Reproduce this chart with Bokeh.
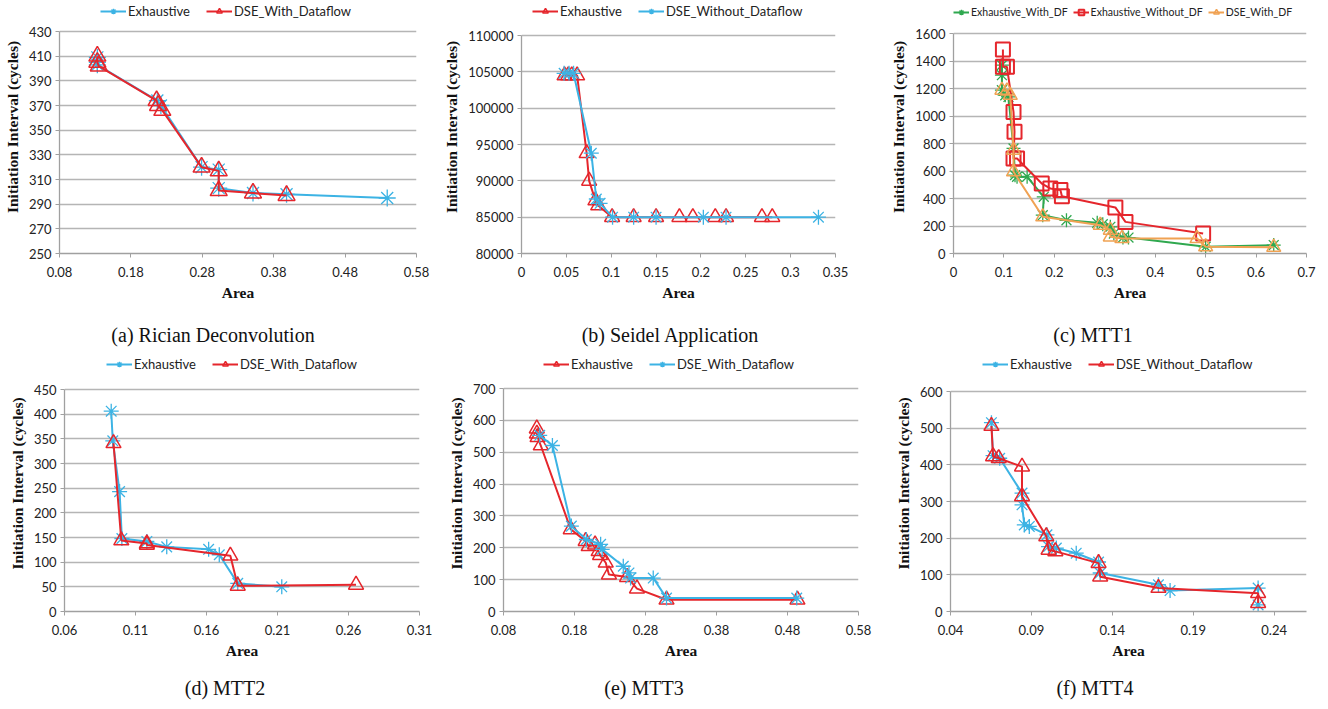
from bokeh.plotting import figure
from bokeh.models import (Range1d, FixedTicker, NumeralTickFormatter, Legend, LegendItem, Div)
from bokeh.layouts import row, column
from bokeh.embed import file_html
from bokeh.resources import INLINE

BLUE = "#3cb3e4"
RED = "#e5262c"
GREEN = "#2fa84f"
ORANGE = "#f0a253"

# ---------------- (a) Rician Deconvolution ----------------
a_exh_x = [0.133, 0.133, 0.133, 0.217, 0.222, 0.279, 0.303, 0.303, 0.351, 0.398, 0.539]
a_exh_y = [409, 405, 403, 374, 370, 320, 318, 303, 299, 298, 295]
a_dse_x = [0.133, 0.133, 0.135, 0.216, 0.218, 0.224, 0.279, 0.303, 0.303, 0.351, 0.398]
a_dse_y = [410, 405, 402, 374, 370, 366, 320, 317, 301, 299, 297]
a_xticks = [0.08, 0.18, 0.28, 0.38, 0.48, 0.58]
a_yticks = [250, 270, 290, 310, 330, 350, 370, 390, 410, 430]

# ---------------- (b) Seidel Application ----------------
b_exh_x = [0.048, 0.052, 0.056, 0.062, 0.0726, 0.0754, 0.0824, 0.0855, 0.101, 0.125, 0.150,
           0.176, 0.191, 0.216, 0.228, 0.268, 0.2795]
b_exh_y = [104500, 104500, 104500, 104500, 93800, 90000, 87300, 86600, 85000, 85000, 85000,
           85000, 85000, 85000, 85000, 85000, 85000]
b_dse_x = [0.0475, 0.053, 0.058, 0.0778, 0.0834, 0.0876, 0.1015, 0.125, 0.150, 0.2027, 0.228, 0.331]
b_dse_y = [104800, 104800, 104800, 93800, 87500, 86900, 85000, 85000, 85000, 85000, 85000, 85000]
b_xticks = [0, 0.05, 0.1, 0.15, 0.2, 0.25, 0.3, 0.35]
b_yticks = [80000, 85000, 90000, 95000, 100000, 105000, 110000]

# ---------------- (c) MTT1 ----------------
c_exdf_x = [0.096, 0.096, 0.096, 0.1026, 0.109, 0.119, 0.122, 0.126, 0.146, 0.179, 0.177, 0.224,
            0.285, 0.296, 0.311, 0.318, 0.336, 0.347, 0.5, 0.635]
c_exdf_y = [1370, 1297, 1188, 1151, 1139, 764, 570, 558, 558, 412, 279, 242,
            223, 213, 194, 145, 116, 116, 49, 61]
c_exnodf_x = [0.098, 0.098, 0.106, 0.119, 0.121, 0.119, 0.126, 0.175, 0.192, 0.212, 0.215, 0.321, 0.341, 0.495]
c_exnodf_y = [1484, 1358, 1358, 1030, 885, 691, 691, 509, 473, 461, 417, 335, 230, 145]
c_dsedf_x = [0.096, 0.106, 0.1125, 0.119, 0.119, 0.177, 0.291, 0.311, 0.311, 0.334, 0.483, 0.5, 0.635]
c_dsedf_y = [1188, 1183, 1151, 752, 594, 267, 206, 170, 121, 109, 109, 49, 45]
c_xticks = [0, 0.1, 0.2, 0.3, 0.4, 0.5, 0.6, 0.7]
c_yticks = [0, 200, 400, 600, 800, 1000, 1200, 1400, 1600]

# ---------------- (d) MTT2 ----------------
d_exh_x = [0.0929, 0.094, 0.0988, 0.1004, 0.118, 0.132, 0.1615, 0.169, 0.182, 0.213]
d_exh_y = [406, 346, 243, 148, 142, 131, 126, 115, 57, 50]
d_dse_x = [0.0945, 0.1, 0.118, 0.118, 0.1768, 0.182, 0.2653]
d_dse_y = [341, 144, 138, 135, 113, 52, 54]
d_xticks = [0.06, 0.11, 0.16, 0.21, 0.26, 0.31]
d_yticks = [0, 50, 100, 150, 200, 250, 300, 350, 400, 450]

# ---------------- (e) MTT3 ----------------
e_exh_x = [0.1269, 0.127, 0.128, 0.1325, 0.1747, 0.1957, 0.2, 0.209, 0.214, 0.216, 0.224, 0.2285,
           0.254, 0.268, 0.3096, 0.494]
e_exh_y = [574, 558, 547, 521, 258, 221, 205, 210, 189, 177, 153, 116, 108, 72, 37, 37]
e_dse_x = [0.131, 0.1489, 0.1756, 0.1967, 0.2168, 0.219, 0.2487, 0.2567, 0.259, 0.2909, 0.3096, 0.493]
e_dse_y = [553, 521, 268, 226, 211, 195, 142, 121, 105, 105, 42, 42]
e_xticks = [0.08, 0.18, 0.28, 0.38, 0.48, 0.58]
e_yticks = [0, 100, 200, 300, 400, 500, 600, 700]

# ---------------- (f) MTT4 ----------------
f_exh_x = [0.0653, 0.0663, 0.0704, 0.0842, 0.0842, 0.0856, 0.0887, 0.0996, 0.1006, 0.1054, 0.1177,
           0.1315, 0.1325, 0.1685, 0.1757, 0.2301, 0.2301]
f_exh_y = [515, 425, 418, 323, 291, 236, 232, 209, 177, 173, 159, 135, 105, 73, 57, 64, 18]
f_dse_x = [0.0653, 0.0663, 0.0698, 0.0842, 0.0842, 0.0992, 0.1006, 0.1048, 0.1315, 0.1325, 0.1685, 0.2301, 0.2301]
f_dse_y = [506, 423, 418, 395, 314, 205, 168, 164, 132, 95, 64, 50, 23]
f_xticks = [0.04, 0.09, 0.14, 0.19, 0.24]
f_yticks = [0, 100, 200, 300, 400, 500, 600]

captions = ["(a) Rician Deconvolution", "(b) Seidel Application", "(c) MTT1",
            "(d) MTT2", "(e) MTT3", "(f) MTT4"]

TICK_FONT = "Lato"
LABEL_FONT = "Liberation Serif"
BOTTOM = 52    # room for x axis


def make_panel(series, xr, xticks, xfmt, yr, yticks, yfmt, width, height, left, right,
               extra, leg_x, leg_top, leg_font, leg_glyph, leg_spacing, msize):
    frame_h = height - BOTTOM
    lo, hi = yr
    top_val = hi + (hi - lo) * extra / (frame_h - extra)
    p = figure(width=width, height=height, output_backend="svg", toolbar_location=None,
               x_range=Range1d(*xr), y_range=Range1d(lo, top_val),
               min_border_left=left, min_border_right=right,
               min_border_top=0, min_border_bottom=BOTTOM)
    p.outline_line_color = None
    p.xgrid.grid_line_color = None
    yt = FixedTicker(ticks=yticks)
    p.xaxis.ticker = FixedTicker(ticks=xticks)
    p.yaxis.ticker = yt
    p.ygrid.ticker = yt
    p.ygrid.grid_line_color = "#b5b5b5"
    p.ygrid.grid_line_width = 1.3
    p.yaxis.bounds = (lo, hi)
    p.xaxis.formatter = NumeralTickFormatter(format=xfmt)
    p.yaxis.formatter = NumeralTickFormatter(format=yfmt)
    for ax in (p.xaxis[0], p.yaxis[0]):
        ax.axis_line_color = "#a0a0a0"
        ax.axis_line_width = 1.3
        ax.major_tick_line_color = "#a0a0a0"
        ax.major_tick_out = 4
        ax.major_tick_in = 0
        ax.minor_tick_line_color = None
        ax.major_label_text_font = TICK_FONT
        ax.major_label_text_font_size = "13px"
        ax.major_label_text_color = "#222222"
        ax.axis_label_text_font = LABEL_FONT
        ax.axis_label_text_font_style = "bold"
        ax.axis_label_text_font_size = "15.5px"
        ax.axis_label_text_color = "#111111"
    p.xaxis.axis_label = "Area"
    p.yaxis.axis_label = "Initiation Interval (cycles)"
    p.xaxis.major_label_standoff = 9
    p.yaxis.major_label_standoff = 4
    p.xaxis.axis_label_standoff = 4
    p.yaxis.axis_label_standoff = 5

    items = []
    for (xs, ys, name, color, marker) in series:
        lr = p.line(xs, ys, line_color=color, line_width=2)
        if marker == "asterisk":
            sr = p.scatter(xs, ys, marker="asterisk", size=msize, line_color=color, line_width=1.3)
        elif marker == "square":
            sr = p.scatter(xs, ys, marker="square", size=msize, line_color=color,
                           fill_alpha=0, line_width=2)
        else:
            sr = p.scatter(xs, ys, marker="triangle", size=msize, line_color=color,
                           fill_alpha=0, line_width=1.5)
        items.append(LegendItem(label=name, renderers=[lr, sr]))
    leg = Legend(items=items, orientation="horizontal", location=(leg_x, frame_h - leg_top - 14),
                 border_line_color=None, background_fill_alpha=0,
                 label_text_font=TICK_FONT, label_text_font_size=leg_font,
                 label_text_color="#222222",
                 glyph_width=leg_glyph, glyph_height=14, label_height=14,
                 spacing=leg_spacing, padding=0, margin=0, label_standoff=2)
    p.add_layout(leg, "center")
    return p


H1, H2 = 305, 308
W = [440, 440, 446]
pa = make_panel([(a_exh_x, a_exh_y, "Exhaustive", BLUE, "asterisk"),
                 (a_dse_x, a_dse_y, "DSE_With_Dataflow", RED, "triangle")],
                (0.08, 0.58), a_xticks, "0.00", (250, 430), a_yticks, "0",
                W[0], H1, 59, 24, 31, 41, 5, "13px", 26, 16, 17)
pb = make_panel([(b_exh_x, b_exh_y, "Exhaustive", RED, "triangle"),
                 (b_dse_x, b_dse_y, "DSE_Without_Dataflow", BLUE, "asterisk")],
                (0, 0.35), b_xticks, "0.[00]", (80000, 110000), b_yticks, "0",
                W[1], H1, 79, 45, 35, 11, 5, "13px", 26, 16, 15)
pc = make_panel([(c_exdf_x, c_exdf_y, "Exhaustive_With_DF", GREEN, "asterisk"),
                 (c_exnodf_x, c_exnodf_y, "Exhaustive_Without_DF", RED, "square"),
                 (c_dsedf_x, c_dsedf_y, "DSE_With_DF", ORANGE, "triangle")],
                (0, 0.7), c_xticks, "0.[0]", (0, 1600), c_yticks, "0",
                W[2], H1, 73, 20, 33, 0, 5, "10.5px", 16, 5, 14)
pd = make_panel([(d_exh_x, d_exh_y, "Exhaustive", BLUE, "asterisk"),
                 (d_dse_x, d_dse_y, "DSE_With_Dataflow", RED, "triangle")],
                (0.06, 0.31), d_xticks, "0.00", (0, 450), d_yticks, "0",
                W[0], H2, 64, 21, 34, 42, 3, "13px", 26, 16, 15)
pe = make_panel([(e_exh_x, e_exh_y, "Exhaustive", RED, "triangle"),
                 (e_dse_x, e_dse_y, "DSE_With_Dataflow", BLUE, "asterisk")],
                (0.08, 0.58), e_xticks, "0.00", (0, 700), e_yticks, "0",
                W[1], H2, 63, 22, 33, 40, 3, "13px", 26, 16, 15)
pf = make_panel([(f_exh_x, f_exh_y, "Exhaustive", BLUE, "asterisk"),
                 (f_dse_x, f_dse_y, "DSE_Without_Dataflow", RED, "triangle")],
                (0.04, 0.26), f_xticks, "0.00", (0, 600), f_yticks, "0",
                W[2], H2, 70, 20, 36, 32, 3, "13px", 26, 16, 15)


def caption(txt, w, h, pad, shift):
    return Div(text=('<div style="width:%dpx;text-align:center;font-family:\'Liberation Serif\','
                     'serif;font-size:20px;line-height:20px;color:#111;padding-top:%dpx;'
                     'position:relative;left:%dpx">%s</div>') % (w, pad, shift, txt),
               width=w, height=h, margin=(0, 0, 0, 0))


shifts = [-7, 10, -10, 5, -16, -8]
row1 = row(pa, pb, pc)
cap1 = row(*[caption(captions[i], W[i], 50, 20, shifts[i]) for i in range(3)])
row2 = row(pd, pe, pf)
cap2 = row(*[caption(captions[3 + i], W[i], 38, 15, shifts[3 + i]) for i in range(3)])
layout = column(row1, cap1, row2, cap2)

open("out.html", "w").write(file_html(layout, INLINE))
